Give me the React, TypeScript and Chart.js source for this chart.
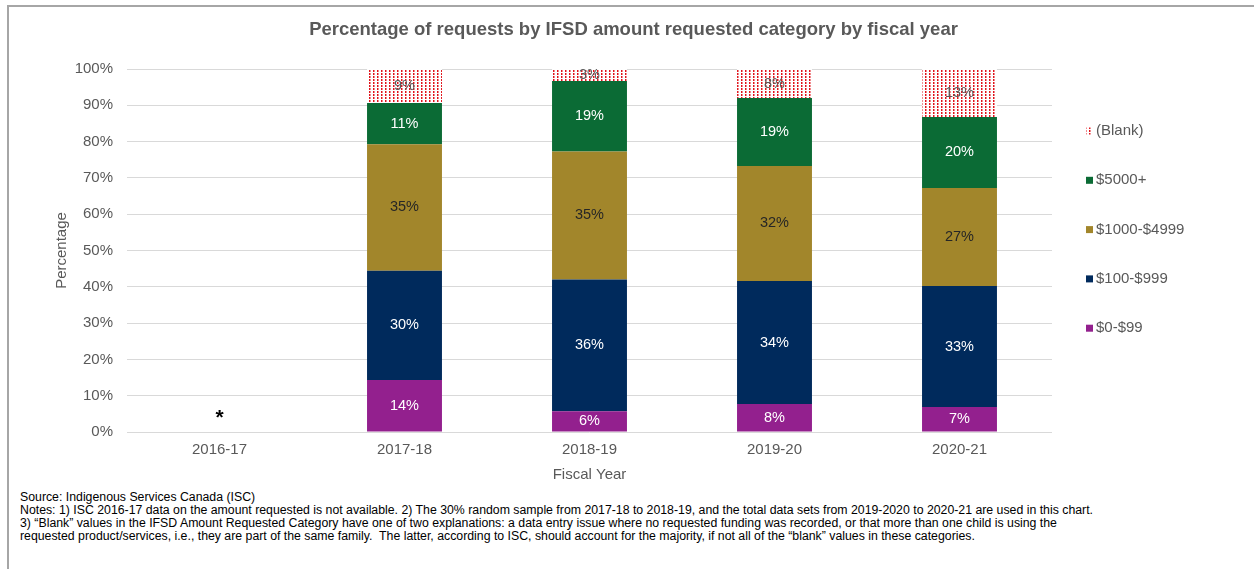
import React, { useEffect, useRef } from "react";
import { Chart, registerables } from "chart.js";

Chart.register(...registerables);

const chartTitle = "Percentage of requests by IFSD amount requested category by fiscal year";
const categories = ["2016-17", "2017-18", "2018-19", "2019-20", "2020-21"];
const seriesNames = ["$0-$99", "$100-$999", "$1000-$4999", "$5000+", "(Blank)"];
const v0to99 = [null, 14.3, 5.7, 7.7, 6.9];
const v100to999 = [null, 30.1, 36.3, 33.9, 33.3];
const v1000to4999 = [null, 34.9, 35.3, 31.7, 27.0];
const v5000plus = [null, 11.3, 19.4, 18.7, 19.6];
const vBlank = [null, 9.4, 3.3, 8.0, 13.2];
const yTicks = [0, 10, 20, 30, 40, 50, 60, 70, 80, 90, 100];
const asteriskCategory = "2016-17";
const asteriskValue = 4.6;

const colors = ["#93208e", "#002a5c", "#a2862b", "#0b6b35", "#e3141b"];
const labelColors = ["#ffffff", "#ffffff", "#262626", "#ffffff", "#595959"];
const FONT = "'Liberation Sans', Arial, sans-serif";
const GRAY = "#595959";

function makePattern(): CanvasPattern | string {
  const c = document.createElement("canvas");
  c.width = 4;
  c.height = 3;
  const g = c.getContext("2d");
  if (!g) return "#e3141b";
  g.fillStyle = "#ffffff";
  g.fillRect(0, 0, 4, 3);
  g.fillStyle = "#e0141b";
  g.fillRect(0, 0, 1, 2);
  g.fillStyle = "#f08a8e";
  g.fillRect(1, 0, 1, 2);
  const p = g.createPattern(c, "repeat");
  return p || "#e3141b";
}

export default function App() {
  const ref = useRef<HTMLCanvasElement | null>(null);

  useEffect(() => {
    if (!ref.current) return;
    const pattern = makePattern();
    const values = [v0to99, v100to999, v1000to4999, v5000plus, vBlank];

    const labelPlugin = {
      id: "segLabels",
      afterDatasetsDraw(chart: any) {
        const ctx = chart.ctx;
        ctx.save();
        ctx.font = `14.5px ${FONT}`;
        ctx.textAlign = "center";
        ctx.textBaseline = "middle";
        chart.data.datasets.forEach((ds: any, di: number) => {
          const meta = chart.getDatasetMeta(di);
          meta.data.forEach((el: any, i: number) => {
            const v = ds.data[i];
            if (v == null || v <= 0) return;
            ctx.fillStyle = labelColors[di];
            ctx.fillText(Math.round(v) + "%", el.x, (el.y + el.base) / 2);
          });
        });
        const xs = chart.scales.x;
        const ys = chart.scales.y;
        ctx.fillStyle = "#000000";
        ctx.font = `bold 21px ${FONT}`;
        ctx.fillText(
          "*",
          xs.getPixelForValue(categories.indexOf(asteriskCategory)),
          ys.getPixelForValue(asteriskValue) + 3
        );
        ctx.restore();
      },
    };

    const titleLegendPlugin = {
      id: "titleAndLegend",
      afterDraw(chart: any) {
        const ctx = chart.ctx;
        const area = chart.chartArea;
        ctx.save();
        ctx.textBaseline = "middle";
        ctx.textAlign = "center";
        ctx.fillStyle = GRAY;
        ctx.font = `bold 18.5px ${FONT}`;
        ctx.fillText(chartTitle, chart.width / 2 + 2, area.top - 39);

        ctx.font = `15px ${FONT}`;
        ctx.textAlign = "left";
        const order = [4, 3, 2, 1, 0];
        order.forEach((di, k) => {
          const y = area.top + 62 + k * 49.3;
          const x = area.right + 34;
          ctx.fillStyle = di === 4 ? (pattern as any) : colors[di];
          ctx.fillRect(x, y - 3.5, 7, 7);
          ctx.fillStyle = GRAY;
          ctx.fillText(seriesNames[di], x + 10, y);
        });
        ctx.restore();
      },
    };

    const chart = new Chart(ref.current, {
      type: "bar",
      data: {
        labels: categories,
        datasets: values.map((d, i) => ({
          label: seriesNames[i],
          data: d as any,
          backgroundColor: i === 4 ? (pattern as any) : colors[i],
          borderWidth: 0,
          categoryPercentage: 1,
          barPercentage: 0.405,
        })),
      },
      options: {
        animation: false,
        responsive: false,
        maintainAspectRatio: false,
        layout: { padding: { left: 0, right: 202, top: 62, bottom: 0 } },
        plugins: {
          legend: { display: false },
          tooltip: { enabled: false },
          title: { display: false },
        },
        scales: {
          x: {
            stacked: true,
            grid: { display: false, drawTicks: false },
            border: { display: false },
            ticks: { color: GRAY, font: { family: FONT, size: 15 }, padding: 9 },
            title: {
              display: true,
              text: "Fiscal Year",
              color: GRAY,
              font: { family: FONT, size: 15 },
              padding: { top: 0, bottom: 1 },
            },
            afterFit: (s: any) => {
              s.height = 53;
            },
          },
          y: {
            stacked: true,
            min: 0,
            max: 100,
            afterBuildTicks: (s: any) => {
              s.ticks = yTicks.map((v) => ({ value: v }));
            },
            grid: { color: "#d9d9d9", drawTicks: false, lineWidth: 1 },
            border: { display: false },
            ticks: {
              color: GRAY,
              font: { family: FONT, size: 15 },
              padding: 14,
              callback: (v: any) => v + "%",
            },
            title: {
              display: true,
              text: "Percentage",
              color: GRAY,
              font: { family: FONT, size: 15 },
              padding: { top: 43.5, bottom: 0 },
            },
            afterFit: (s: any) => {
              s.width = 118;
            },
          },
        },
      } as any,
      plugins: [labelPlugin, titleLegendPlugin],
    });
    return () => chart.destroy();
  }, []);

  const noteStyle: React.CSSProperties = {
    whiteSpace: "pre",
    fontFamily: FONT,
    fontSize: "12.3px",
    lineHeight: "13px",
    color: "#000000",
  };

  return (
    <div style={{ position: "fixed", inset: 0, overflow: "hidden", background: "#fff" }}>
      <div
        style={{
          position: "absolute",
          left: 7,
          top: 5,
          width: 1270,
          height: 600,
          border: "2px solid #a6a6a6",
          boxSizing: "border-box",
          background: "#fff",
        }}
      >
        <canvas ref={ref} width={1245} height={478} style={{ display: "block", width: 1245, height: 478 }} />
        <div style={{ paddingLeft: 11, marginTop: 6 }}>
          <div style={noteStyle}>Source: Indigenous Services Canada (ISC)</div>
          <div style={noteStyle}>
            Notes: 1) ISC 2016-17 data on the amount requested is not available. 2) The 30% random sample from 2017-18 to 2018-19, and the total data sets from 2019-2020 to 2020-21 are used in this chart.
          </div>
          <div style={noteStyle}>
            3) “Blank” values in the IFSD Amount Requested Category have one of two explanations: a data entry issue where no requested funding was recorded, or that more than one child is using the
          </div>
          <div style={noteStyle}>
            requested product/services, i.e., they are part of the same family.  The latter, according to ISC, should account for the majority, if not all of the “blank” values in these categories.
          </div>
        </div>
      </div>
    </div>
  );
}
